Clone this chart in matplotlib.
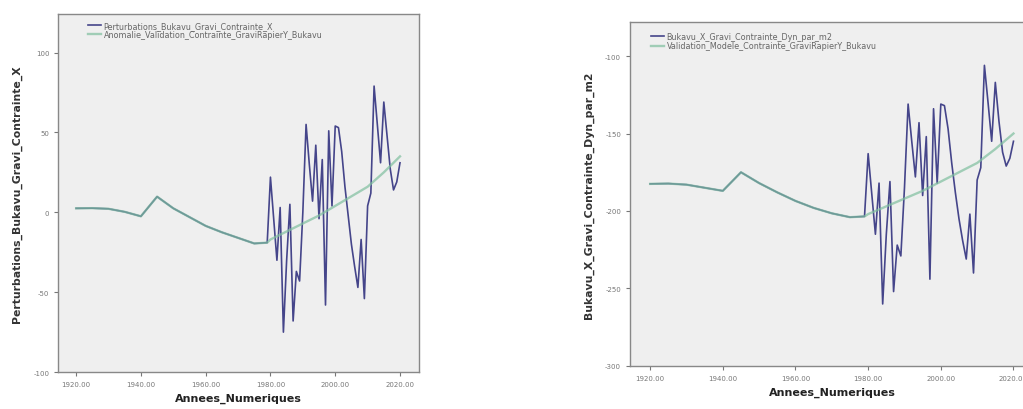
import numpy as np
import matplotlib
matplotlib.use("Agg")
import matplotlib.pyplot as plt
from matplotlib.ticker import FormatStrFormatter

plt.rcParams["axes.unicode_minus"] = False

# shared smooth part (both series coincide before 1980)
early_years = [1920, 1925, 1930, 1935, 1940, 1945, 1950, 1955, 1960, 1965, 1970, 1975, 1979]
early_x = [2.5, 2.6, 2.2, 0.3, -2.5, 9.8, 2.5, -3.0, -8.5, -12.5, -16.0, -19.5, -19.0]
early_dyn = [-182.5, -182.3, -183.0, -185.0, -187.0, -175.0, -182.0, -188.0, -193.5, -198.0, -201.5, -204.0, -203.5]

late_years = list(range(1980, 2021))
pert_x = [22, -4, -30, 3, -75, -30, 5, -68, -37, -43, 0, 55, 30, 7, 42, -4, 33, -58, 51, 4,
          54, 53, 38, 16, -2, -20, -34, -47, -17, -54, 4, 12, 79, 55, 31, 69, 48, 27, 14, 19, 31]
dyn_x = [-163, -189, -215, -182, -260, -215, -181, -252, -222, -229, -185, -131, -155, -178, -143,
         -190, -152, -244, -134, -182, -131, -132, -147, -169, -188, -205, -219, -231, -202, -240,
         -180, -172, -106, -130, -155, -117, -142, -162, -171, -166, -155]

valid_years = [1980, 1985, 1990, 1995, 2000, 2005, 2010, 2015, 2020]
valid_x = [-17, -12, -7, -2, 4, 10, 16, 25, 35]
valid_dyn = [-202, -197, -192, -187, -181, -175, -169, -160, -150]

x_ticks = [1920, 1940, 1960, 1980, 2000, 2020]

panels = [
    dict(rect=[0.057, 0.090, 0.353, 0.873], ylim=(-100, 124), yticks=[-100, -50, 0, 50, 100],
         blue=early_x + pert_x, green=early_x + valid_x,
         ylabel="Perturbations_Bukavu_Gravi_Contrainte_X", leg=(0.07, 0.995),
         labels=["Perturbations_Bukavu_Gravi_Contrainte_X",
                 "Anomalie_Validation_Contrainte_GraviRapierY_Bukavu"]),
    dict(rect=[0.616, 0.105, 0.396, 0.839], ylim=(-300, -78), yticks=[-300, -250, -200, -150, -100],
         blue=early_dyn + dyn_x, green=early_dyn + valid_dyn,
         ylabel="Bukavu_X_Gravi_Contrainte_Dyn_par_m2", leg=(0.04, 0.985),
         labels=["Bukavu_X_Gravi_Contrainte_Dyn_par_m2",
                 "Validation_Modele_Contrainte_GraviRapierY_Bukavu"]),
]

fig = plt.figure(figsize=(10.23, 4.10), dpi=100)

for p in panels:
    ax = fig.add_axes(p["rect"])
    ax.set_facecolor("#efefef")
    ax.plot(early_years + late_years, p["blue"], color="#45458a", lw=1.2, label=p["labels"][0])
    ax.plot(early_years + valid_years, p["green"], color="#7fbf9f", lw=1.7, alpha=0.7,
            label=p["labels"][1])
    ax.set_xlim(1914.5, 2026)
    ax.set_ylim(*p["ylim"])
    ax.set_xticks(x_ticks)
    ax.set_yticks(p["yticks"])
    ax.xaxis.set_major_formatter(FormatStrFormatter("%.2f"))
    ax.tick_params(labelsize=5, colors="#777777", length=3, width=0.8)
    for s in ax.spines.values():
        s.set_color("#888888")
        s.set_linewidth(1.0)
    ax.set_xlabel("Annees_Numeriques", fontsize=8, fontweight="bold", color="#222222", labelpad=4)
    ax.set_ylabel(p["ylabel"], fontsize=7.8, fontweight="bold", color="#333333", labelpad=8)
    ax.legend(loc="upper left", frameon=False, fontsize=5.8, labelcolor="#666666",
              handlelength=1.6, handletextpad=0.3, borderaxespad=0.2, labelspacing=0.05,
              bbox_to_anchor=p["leg"])

fig.savefig("out.png", dpi=100)
